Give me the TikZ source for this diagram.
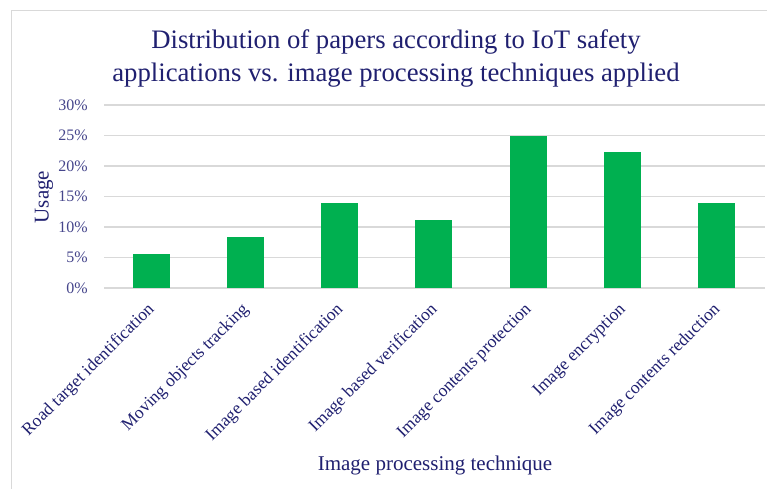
\documentclass[tikz,border=0pt]{standalone}
\usepackage{fontspec}
\setmainfont{Liberation Serif}
\definecolor{navy}{RGB}{32,32,112}
\definecolor{ticknavy}{RGB}{70,70,140}
\definecolor{bargreen}{RGB}{0,176,80}
\definecolor{gridgray}{RGB}{217,217,217}
\tikzset{
  bar/.style={fill=bargreen, draw=none},
  grid line/.style={draw=gridgray, line width=1.2pt},
  ytick/.style={text=ticknavy, anchor=east, font=\fontsize{16}{16}\selectfont, inner sep=0pt},
  xlab/.style={text=navy, anchor=east, rotate=45, font=\fontsize{17.5}{17.5}\selectfont, inner sep=0pt},
  axis title/.style={text=navy, font=\fontsize{21}{21}\selectfont, inner sep=0pt},
}
\begin{document}
\begin{tikzpicture}[x=1pt,y=-1pt]
\useasboundingbox (0,0) rectangle (767,488);
\fill[white] (0,0) rectangle (767,488);
% chart frame
\draw[gridgray, line width=1pt] (11,500) -- (11,10) -- (780,10);
% title
\node[text=navy, align=center, font=\fontsize{26.7}{33}\selectfont, inner sep=0pt] (title) at (396,58) {Distribution of papers according to IoT safety\\applications vs. image processing techniques applied};
% gridlines and ticks
\foreach \v/\lab in {0/0\%,5/5\%,10/10\%,15/15\%,20/20\%,25/25\%,30/30\%}{
  \draw[grid line] (104,{288-6.1*\v}) -- (765,{288-6.1*\v});
  \node[ytick] (t\v) at (88,{288-6.1*\v}) {\lab};
}
% bars
\foreach \i/\val/\lab in {1/5.556/Road target identification,
                         2/8.333/Moving objects tracking,
                         3/13.889/Image based identification,
                         4/11.111/Image based verification,
                         5/25/Image contents protection,
                         6/22.222/Image encryption,
                         7/13.889/Image contents reduction}{
  \pgfmathsetmacro{\cx}{151+94.3*(\i-1)}
  \fill[bar] ({\cx-18.5},288) rectangle ({\cx+18.5},{288-6.1*\val});
  \node[xlab] (c\i) at ({\cx+1},307) {\lab};
}
% axis titles
\node[axis title, rotate=90] (ytitle) at (44,197) {Usage};
\node[axis title] (xtitle) at (435,465) {Image processing technique};
\end{tikzpicture}
\end{document}
